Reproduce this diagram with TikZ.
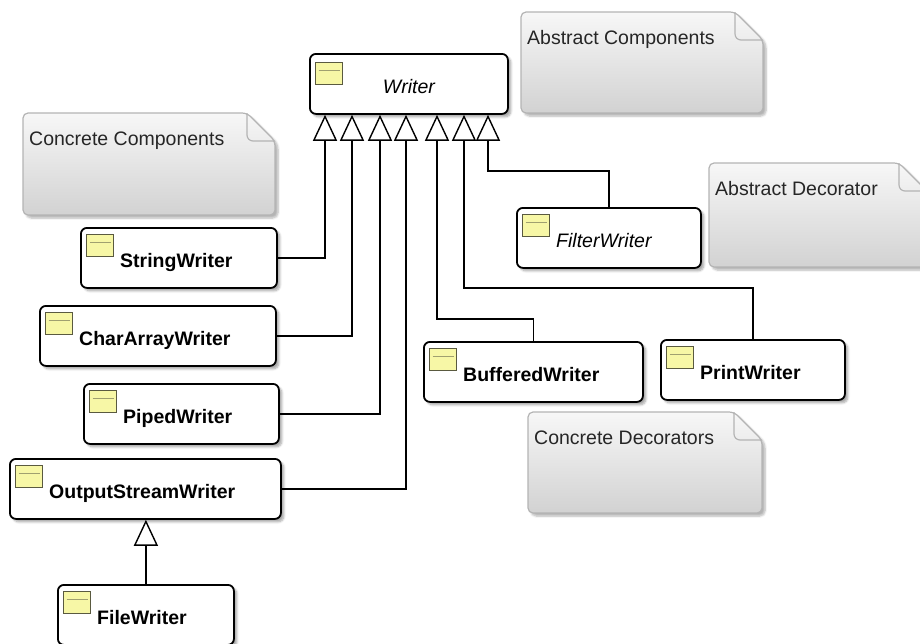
\documentclass[tikz,border=0pt]{standalone}
\usepackage{fontspec}
\setmainfont{Liberation Sans}
\usetikzlibrary{arrows.meta,shadows.blur}

\definecolor{notetop}{HTML}{F7F7F7}
\definecolor{notebot}{HTML}{D2D2D2}
\definecolor{notedraw}{HTML}{B4B4B4}
\definecolor{iconfill}{HTML}{F7F7A6}
\definecolor{icondraw}{HTML}{5A5A40}
\definecolor{iconline}{HTML}{A0A070}

\tikzset{
  cls/.style={draw, line width=1.8pt, rounded corners=6pt, fill=white,
    anchor=north west, minimum height=60pt, inner sep=0pt,
    blur shadow={shadow xshift=3pt, shadow yshift=-3pt, shadow blur steps=6, shadow opacity=35}},
  icon/.style={draw=icondraw, line width=1pt, fill=iconfill, anchor=north west,
    minimum width=27pt, minimum height=22pt, inner sep=0pt,
    path picture={\draw[iconline, line width=1.3pt]
      ([xshift=3pt,yshift=-8pt]path picture bounding box.north west) --
      ([xshift=-3pt,yshift=-8pt]path picture bounding box.north east);}},
  clsname/.style={anchor=base west, inner sep=0pt, font=\fontsize{19.5}{23}\selectfont\bfseries},
  abstname/.style={anchor=base west, inner sep=0pt, font=\fontsize{19.5}{23}\selectfont\itshape},
  note/.style={draw=notedraw, line width=1.2pt, top color=notetop, bottom color=notebot,
    rounded corners=5pt,
    blur shadow={shadow xshift=3pt, shadow yshift=-3pt, shadow blur steps=6, shadow opacity=30}},
  notefold/.style={draw=notedraw, line width=1.2pt, rounded corners=6pt},
  notetext/.style={anchor=base west, inner sep=0pt, text=black!85, font=\fontsize{19.5}{23}\selectfont},
  gen/.style={line width=1.4pt, -{Triangle[open, length=26pt, width=24pt]}}
}

% name, x, y, width, style, text
\newcommand{\umlclass}[6]{%
  \node[cls, minimum width=#4pt] (#1) at (#2,#3) {};
  \node[icon] (#1-i) at ([xshift=6pt,yshift=-7pt]#1.north west) {};
  \node[#5] (#1-t) at ([xshift=40pt,yshift=-40pt]#1.north west) {#6};
}
% name, x1, y1, x2, y2, text
\newcommand{\umlnote}[6]{%
  \path[note] (#2,#3) -- (#4-28,#3) -- (#4,#3+28) -- (#4,#5) -- (#2,#5) -- cycle;
  \draw[notefold] (#4-28,#3) |- (#4,#3+28);
  \node[notetext] (#1) at (#2+6,#3+32) {#6};
}

\begin{document}
\begin{tikzpicture}[x=1pt, y=-1pt]
\path[use as bounding box, clip] (0,0) rectangle (920,643);

% notes
\umlnote{abscomp}{521}{12}{763}{113}{Abstract Components}
\umlnote{absdec}{709}{163}{927}{267}{Abstract Decorator}
\umlnote{concomp}{23}{113}{275}{215}{Concrete Components}
\umlnote{condec}{528}{412}{762}{513}{Concrete Decorators}

% classes
\node[cls, minimum width=198pt] (writer) at (309,53) {};
\node[icon] (writer-i) at ([xshift=6pt,yshift=-9pt]writer.north west) {};
\node[abstname, anchor=base] (writer-t) at ([yshift=-40pt]writer.north) {Writer};

\umlclass{string}{80}{227}{196}{clsname}{StringWriter}
\umlclass{chararray}{39}{305}{236}{clsname}{CharArrayWriter}
\umlclass{piped}{83}{383}{195}{clsname}{PipedWriter}
\umlclass{osw}{9}{458}{271}{clsname}{OutputStreamWriter}
\umlclass{file}{57}{584}{176}{clsname}{FileWriter}
\umlclass{filter}{516}{207}{184}{abstname}{FilterWriter}
\umlclass{buffered}{423}{341}{219}{clsname}{BufferedWriter}
\umlclass{print}{660}{339}{184}{clsname}{PrintWriter}

% generalisations
\draw[gen] (string.east) -| ([xshift=16pt]writer.south west);
\draw[gen] (chararray.east) -| ([xshift=43pt]writer.south west);
\draw[gen] (piped.east) -| ([xshift=71pt]writer.south west);
\draw[gen] (osw.east) -| ([xshift=97pt]writer.south west);
\draw[gen] (buffered.north) -- ++(0,-22) -| ([xshift=128pt]writer.south west);
\draw[gen] (print.north) -- ++(0,-51) -| ([xshift=155pt]writer.south west);
\draw[gen] (filter.north) -- ++(0,-36) -| ([xshift=179pt]writer.south west);
\draw[gen] (file.north) -- (osw.south -| file.north);

\end{tikzpicture}
\end{document}
